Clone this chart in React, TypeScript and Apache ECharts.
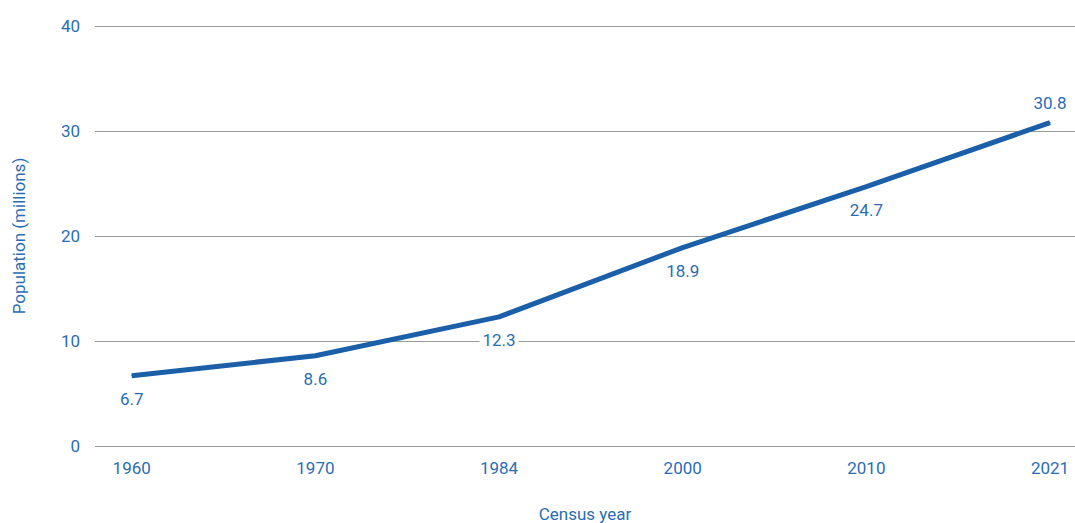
import React, { useEffect, useRef } from "react";
import * as echarts from "echarts";

const years = ["1960", "1970", "1984", "2000", "2010", "2021"];
const population = [6.7, 8.6, 12.3, 18.9, 24.7, 30.8];
const yTicks = [0, 10, 20, 30, 40];

const TEXT = "#2a6db5";
const LINE = "#1a5fa8";
const FONT = "Roboto";
const FS = 17;

export default function App() {
  const ref = useRef<HTMLDivElement>(null);
  useEffect(() => {
    if (!ref.current) return;
    const chart = echarts.init(ref.current, undefined, { renderer: "svg" });
    const data = population.map((v, i) => ({
      value: [i, v],
      label: i === population.length - 1 ? { position: "top", distance: 11 } : { position: "bottom", distance: 14 },
    }));
    chart.setOption({
      animation: false,
      textStyle: { fontFamily: FONT },
      grid: { left: 95, right: 0, top: 26, bottom: 77, containLabel: false, outerBoundsMode: "none" },
      xAxis: {
        type: "value",
        min: -0.2,
        max: 5.136,
        name: "Census year",
        nameLocation: "middle",
        nameGap: 59,
        nameTextStyle: { color: TEXT, fontSize: FS, fontFamily: FONT },
        axisLine: { show: false },
        axisTick: { show: false },
        splitLine: { show: false },
        axisLabel: {
          customValues: years.map((_, i) => i),
          formatter: (v: number) => years[Math.round(v)] ?? "",
          color: TEXT,
          fontSize: FS,
          fontFamily: FONT,
          margin: 13,
        },
      },
      yAxis: {
        type: "value",
        min: yTicks[0],
        max: yTicks[yTicks.length - 1],
        interval: 10,
        name: "Population (millions)",
        nameLocation: "middle",
        nameGap: 68,
        nameTextStyle: { color: TEXT, fontSize: FS, fontFamily: FONT },
        axisLine: { show: false },
        axisTick: { show: false },
        axisLabel: { color: TEXT, fontSize: FS, fontFamily: FONT, margin: 15 },
        splitLine: { lineStyle: { color: "#9a9a9a", width: 1 } },
      },
      series: [
        {
          type: "line",
          data,
          symbol: "circle",
          symbolSize: 1,
          showSymbol: true,
          itemStyle: { color: LINE },
          lineStyle: { color: LINE, width: 5 },
          label: {
            show: true,
            formatter: (p: any) => String(p.value[1]),
            color: TEXT,
            fontSize: FS,
            fontFamily: FONT,
            backgroundColor: "#fff",
            padding: [0, 3],
          },
        },
      ],
    });
    return () => chart.dispose();
  }, []);
  return <div ref={ref} style={{ width: 1075, height: 523, position: "absolute", left: 0, top: 0 }} />;
}
